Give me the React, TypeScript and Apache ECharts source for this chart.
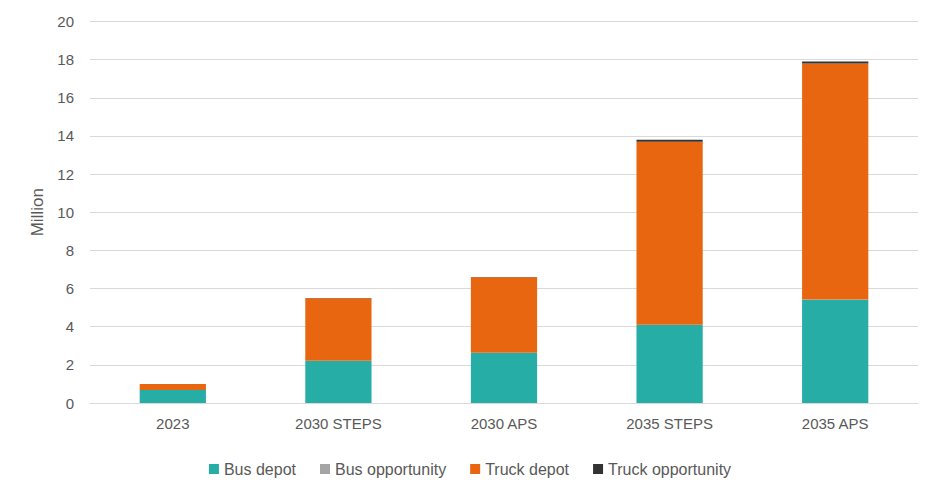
import React, { useEffect, useRef } from "react";
import * as echarts from "echarts";

const categories = ["2023", "2030 STEPS", "2030 APS", "2035 STEPS", "2035 APS"];
const busDepot = [0.68, 2.2, 2.62, 4.09, 5.41];
const busOpportunity = [0.005, 0.01, 0.01, 0.01, 0.01];
const truckDepot = [0.31, 3.28, 3.96, 9.6, 12.38];
const truckOpportunity = [0.002, 0.01, 0.01, 0.1, 0.1];

const FONT = "Liberation Sans, Arial, sans-serif";

export default function App() {
  const ref = useRef<HTMLDivElement>(null);

  useEffect(() => {
    if (!ref.current) return;
    const chart = echarts.init(ref.current, null, { renderer: "svg" });
    const mk = (name: string, data: number[], color: string) => ({
      name,
      type: "bar",
      stack: "total",
      data,
      barWidth: "40%",
      itemStyle: { color },
    });
    chart.setOption({
      animation: false,
      textStyle: { fontFamily: FONT },
      grid: { left: 90, right: 22, top: 21.5, bottom: 93, containLabel: false },
      legend: {
        top: 456,
        left: "center",
        itemWidth: 10,
        itemHeight: 10,
        itemGap: 24,
        icon: "rect",
        textStyle: { fontSize: 16, color: "#595959", fontFamily: FONT, padding: [0, 0, 0, 0] },
        data: ["Bus depot", "Bus opportunity", "Truck depot", "Truck opportunity"],
      },
      xAxis: {
        type: "category",
        data: categories,
        axisLine: { lineStyle: { color: "#d9d9d9" } },
        axisTick: { show: false },
        axisLabel: { fontSize: 15, color: "#595959", margin: 13 },
      },
      yAxis: {
        type: "value",
        min: 0,
        max: 20,
        interval: 2,
        name: "Million",
        nameLocation: "middle",
        nameGap: 44,
        nameTextStyle: { fontSize: 17, color: "#595959" },
        axisLine: { show: false },
        axisTick: { show: false },
        axisLabel: { fontSize: 15, color: "#595959", margin: 16 },
        splitLine: { lineStyle: { color: "#d9d9d9" } },
      },
      series: [
        mk("Bus depot", busDepot, "#26ADA6"),
        mk("Bus opportunity", busOpportunity, "#A5A5A5"),
        mk("Truck depot", truckDepot, "#E96611"),
        mk("Truck opportunity", truckOpportunity, "#333333"),
      ],
    });
    return () => chart.dispose();
  }, []);

  return <div ref={ref} style={{ width: 940, height: 496, position: "absolute", left: 0, top: 0 }} />;
}
